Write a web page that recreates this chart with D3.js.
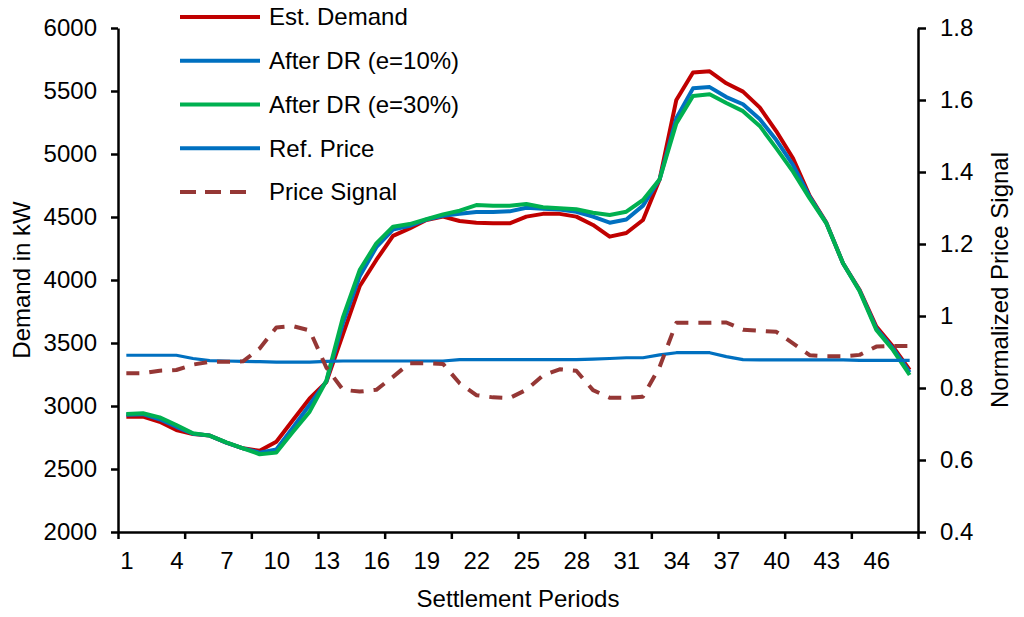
<!DOCTYPE html>
<html>
<head>
<meta charset="utf-8">
<script src="https://cdn.jsdelivr.net/npm/d3@7"></script>
<style>
  body { margin: 0; background: #fff; }
  svg { display: block; font-family: "Liberation Sans", Arial, sans-serif; }
</style>
</head>
<body>
<svg id="chart" width="1024" height="617"></svg>
<script>
// settlement periods 1..48
const periods = d3.range(1, 49);

const estDemand = [2915, 2915, 2875, 2810, 2778, 2765, 2710, 2664, 2645, 2717, 2889, 3060,
  3190, 3570, 3950, 4159, 4350, 4410, 4476, 4503, 4468, 4455, 4450, 4450,
  4503, 4525, 4525, 4503, 4437, 4344, 4373, 4476, 4800, 5429, 5647, 5656,
  5561, 5495, 5370, 5180, 4965, 4668, 4455, 4133, 3921, 3630, 3471, 3286];

const demandDR10 = [2930, 2935, 2895, 2835, 2780, 2765, 2710, 2664, 2630, 2655, 2830, 3010,
  3195, 3660, 4030, 4260, 4400, 4430, 4480, 4510, 4525, 4540, 4540, 4545,
  4574, 4565, 4560, 4542, 4503, 4455, 4480, 4590, 4800, 5283, 5521, 5531,
  5452, 5395, 5277, 5111, 4913, 4661, 4452, 4133, 3915, 3615, 3457, 3266];

const demandDR30 = [2937, 2942, 2910, 2849, 2783, 2765, 2712, 2664, 2617, 2630, 2796, 2955,
  3200, 3706, 4079, 4291, 4423, 4444, 4482, 4521, 4550, 4595, 4590, 4590,
  4603, 4577, 4569, 4561, 4534, 4516, 4542, 4635, 4800, 5243, 5460, 5475,
  5405, 5340, 5223, 5045, 4860, 4648, 4450, 4133, 3910, 3603, 3444, 3246];

const refPrice = [0.891, 0.891, 0.891, 0.891, 0.882, 0.876, 0.875, 0.874, 0.873, 0.872, 0.872, 0.872,
  0.874, 0.875, 0.875, 0.875, 0.875, 0.875, 0.875, 0.875, 0.879, 0.879, 0.879, 0.879,
  0.879, 0.879, 0.879, 0.879, 0.880, 0.882, 0.884, 0.884, 0.892, 0.898, 0.898, 0.898,
  0.887, 0.879, 0.878, 0.878, 0.878, 0.878, 0.878, 0.878, 0.877, 0.877, 0.877, 0.877];

const priceSignal = [0.841, 0.841, 0.848, 0.850, 0.865, 0.873, 0.873, 0.874, 0.910, 0.968, 0.972, 0.960,
  0.857, 0.795, 0.790, 0.795, 0.831, 0.869, 0.869, 0.867, 0.813, 0.780, 0.774, 0.772,
  0.795, 0.835, 0.852, 0.848, 0.794, 0.773, 0.773, 0.776, 0.859, 0.981, 0.981, 0.981,
  0.982, 0.962, 0.959, 0.956, 0.924, 0.891, 0.888, 0.888, 0.892, 0.915, 0.917, 0.917];

const leftTicks = [2000, 2500, 3000, 3500, 4000, 4500, 5000, 5500, 6000];
const rightTicks = [0.4, 0.6, 0.8, 1, 1.2, 1.4, 1.6, 1.8];
const labelPeriods = [1, 4, 7, 10, 13, 16, 19, 22, 25, 28, 31, 34, 37, 40, 43, 46];
const tickMarks = d3.range(0.5, 49, 4);

const series = [
  { name: 'Est. Demand', values: estDemand, axis: 'left', color: '#C00000', width: 4 },
  { name: 'After DR (e=10%)', values: demandDR10, axis: 'left', color: '#0070C0', width: 4 },
  { name: 'After DR (e=30%)', values: demandDR30, axis: 'left', color: '#00B050', width: 4 },
  { name: 'Ref. Price', values: refPrice, axis: 'right', color: '#0070C0', width: 3.2 },
  { name: 'Price Signal', values: priceSignal, axis: 'right', color: '#953735', width: 4, dash: '13,10' }
];

const plot = { left: 118, right: 918, top: 28, bottom: 532 };
const fontSize = 24;

const svg = d3.select('#chart');

const x = d3.scaleLinear().domain([0.5, 48.5]).range([plot.left, plot.right]);
const yL = d3.scaleLinear().domain([2000, 6000]).range([plot.bottom, plot.top]);
const yR = d3.scaleLinear().domain([0.4, 1.8]).range([plot.bottom, plot.top]);

// series lines
series.forEach(s => {
  const y = s.axis === 'left' ? yL : yR;
  const line = d3.line()
    .x((d, i) => x(periods[i]))
    .y(d => y(d));
  svg.append('path')
    .datum(s.values)
    .attr('d', line)
    .attr('fill', 'none')
    .attr('stroke', s.color)
    .attr('stroke-width', s.width)
    .attr('stroke-linejoin', 'round')
    .attr('stroke-dasharray', s.dash || null);
});

// axes
const styleAxis = g => {
  g.select('.domain').attr('stroke', '#000').attr('stroke-width', 2.5);
  g.selectAll('.tick line').attr('stroke', '#000').attr('stroke-width', 2.5);
  g.selectAll('.tick text').attr('fill', '#000').style('font-size', fontSize + 'px');
};

svg.append('g')
  .attr('transform', `translate(${plot.left},0)`)
  .call(d3.axisLeft(yL).tickValues(leftTicks).tickSize(7).tickSizeOuter(0).tickPadding(14)
    .tickFormat(d3.format('d')))
  .call(styleAxis);

svg.append('g')
  .attr('transform', `translate(${plot.right},0)`)
  .call(d3.axisRight(yR).tickValues(rightTicks).tickSize(8).tickSizeOuter(0).tickPadding(14)
    .tickFormat(d3.format('~g')))
  .call(styleAxis);

// x tick marks between categories
svg.append('g')
  .attr('transform', `translate(0,${plot.bottom})`)
  .call(d3.axisBottom(x).tickValues(tickMarks).tickSize(7).tickSizeOuter(0).tickFormat(''))
  .call(styleAxis);

// x labels every 3 periods
svg.append('g')
  .attr('transform', `translate(0,${plot.bottom})`)
  .call(d3.axisBottom(x).tickValues(labelPeriods).tickSize(0).tickPadding(20))
  .call(g => g.select('.domain').remove())
  .call(styleAxis);

// axis titles
svg.append('text')
  .attr('x', (plot.left + plot.right) / 2)
  .attr('y', 607)
  .attr('text-anchor', 'middle')
  .style('font-size', fontSize + 'px')
  .text('Settlement Periods');

svg.append('text')
  .attr('transform', 'translate(30,280) rotate(-90)')
  .attr('text-anchor', 'middle')
  .style('font-size', fontSize + 'px')
  .text('Demand in kW');

svg.append('text')
  .attr('transform', 'translate(1008,280) rotate(-90)')
  .attr('text-anchor', 'middle')
  .style('font-size', fontSize + 'px')
  .text('Normalized Price Signal');

// legend
const legend = svg.append('g');
series.forEach((s, i) => {
  const ly = 17 + i * 43.75;
  legend.append('line')
    .attr('x1', 180).attr('x2', s.dash ? 246 : 260)
    .attr('y1', ly).attr('y2', ly)
    .attr('stroke', s.color)
    .attr('stroke-width', 4)
    .attr('stroke-dasharray', s.dash ? '16,9' : null);
  legend.append('text')
    .attr('x', 269)
    .attr('y', ly)
    .attr('dy', '0.35em')
    .style('font-size', fontSize + 'px')
    .text(s.name);
});
</script>
</body>
</html>
